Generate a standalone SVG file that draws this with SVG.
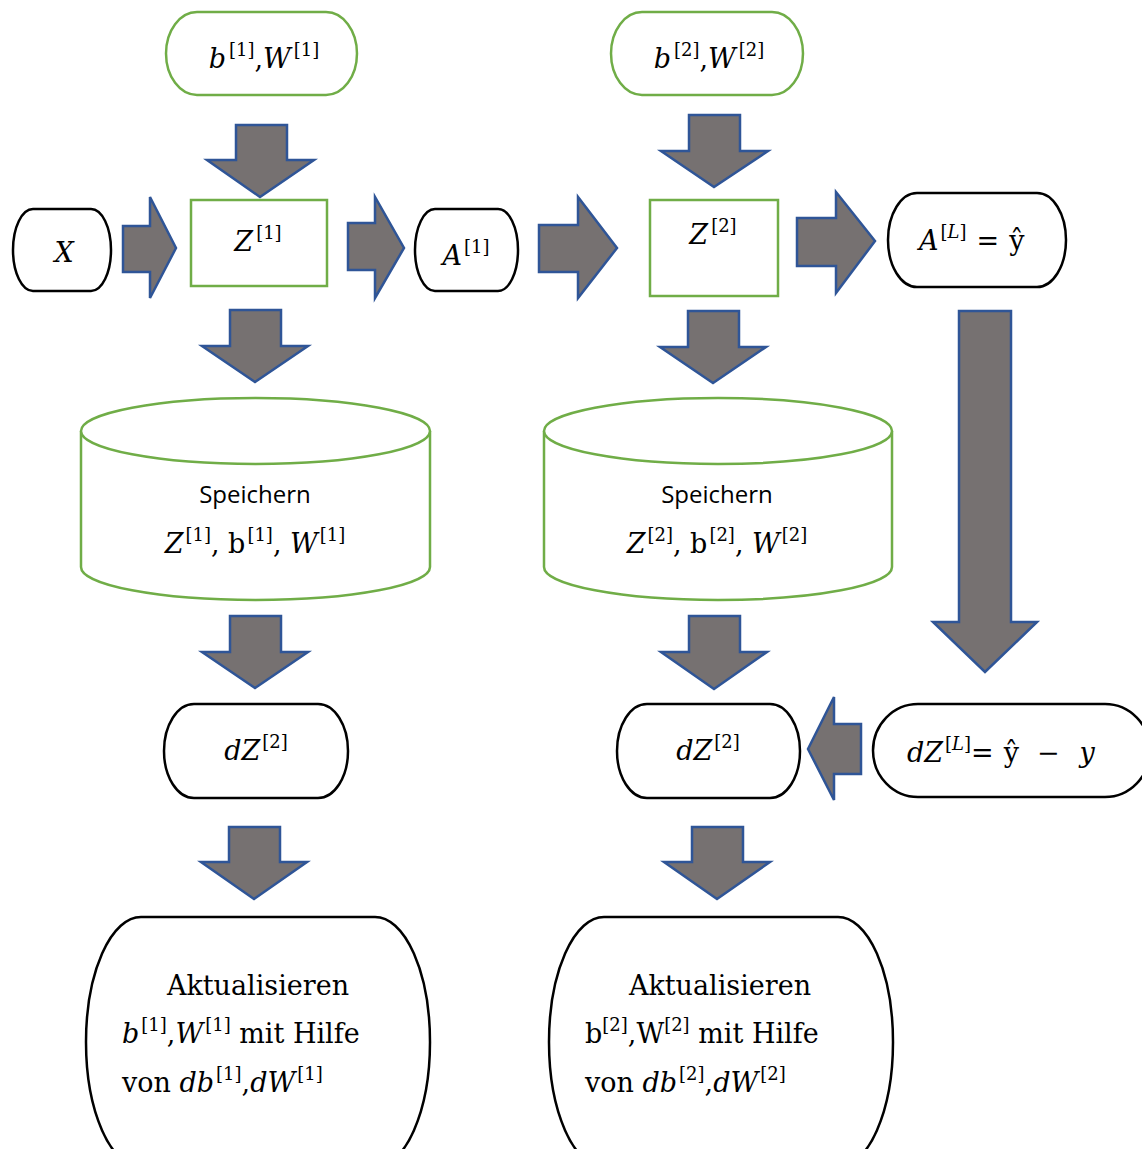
<svg xmlns="http://www.w3.org/2000/svg" width="1142" height="1149" viewBox="0 0 1142 1149">
<style>
.arr{fill:#767171;stroke:#2F5597;stroke-width:2.5;stroke-linejoin:miter}
.g{fill:#fff;stroke:#70AD47;stroke-width:2.5}
.k{fill:#fff;stroke:#000;stroke-width:2.5}
.m{font-family:"DejaVu Serif","Liberation Serif",serif;font-size:27px;fill:#000}
.i{font-style:italic}
.s{font-size:18px}
.sans{font-family:"Open Sans",Lato,"Liberation Sans",sans-serif;font-size:24px;fill:#000}
</style>
<rect width="1142" height="1149" fill="#fff"/>
<g id="connectors">
<polygon class="arr" points="236,125 287,125 287,160 314,160 260,197 207,160 236,160"/>
<polygon class="arr" points="689,115 740,115 740,151 768,151 714,187 661,151 689,151"/>
<polygon class="arr" points="123,226 150,226 150,197 176,248 150,298 150,272 123,272"/>
<polygon class="arr" points="348,223 375,223 375,197 404,248 375,298 375,270 348,270"/>
<polygon class="arr" points="539,225 578,225 578,197 617,248 578,298 578,272 539,272"/>
<polygon class="arr" points="797,218 836,218 836,192 875,241 836,293 836,266 797,266"/>
<polygon class="arr" points="230,310 281,310 281,346 308,346 255,382 202,346 230,346"/>
<polygon class="arr" points="688,311 739,311 739,347 766,347 713,383 660,347 688,347"/>
<polygon class="arr" points="959,311 1011,311 1011,622 1037,622 985,672 933,622 959,622"/>
<polygon class="arr" points="230,616 281,616 281,652 308,652 255,688 202,652 230,652"/>
<polygon class="arr" points="689,616 740,616 740,652 767,652 714,689 661,652 689,652"/>
<polygon class="arr" points="861,724 861,774 834,774 834,800 808,749 834,697 834,724"/>
<polygon class="arr" points="229,827 280,827 280,862 307,862 254,899 201,862 229,862"/>
<polygon class="arr" points="692,827 743,827 743,862 770,862 717,899 664,862 692,862"/>
</g>
<g id="n_b1">
<path class="g" d="M197,12 H326 A31,41.5 0 0 1 326,95 H197 A31,41.5 0 0 1 197,12 Z"/>
<text class="m" x="264" y="68" text-anchor="middle"><tspan class="i">b</tspan><tspan class="s" dx="3" dy="-12">[1]</tspan><tspan dy="12">,</tspan><tspan class="i">W</tspan><tspan class="s" dx="3" dy="-12">[1]</tspan></text>
</g>
<g id="n_b2">
<path class="g" d="M642,12 H772 A31,41.5 0 0 1 772,95 H642 A31,41.5 0 0 1 642,12 Z"/>
<text class="m" x="709" y="68" text-anchor="middle"><tspan class="i">b</tspan><tspan class="s" dx="3" dy="-12">[2]</tspan><tspan dy="12">,</tspan><tspan class="i">W</tspan><tspan class="s" dx="3" dy="-12">[2]</tspan></text>
</g>
<g id="n_x">
<path class="k" d="M33,209 H91 A20,41 0 0 1 91,291 H33 A20,41 0 0 1 33,209 Z"/>
<text class="m i" x="64" y="262" text-anchor="middle">X</text>
</g>
<g id="n_z1">
<rect class="g" x="191" y="200" width="136" height="86"/>
<text class="m" x="258" y="251" text-anchor="middle"><tspan class="i">Z</tspan><tspan class="s" dx="3" dy="-12">[1]</tspan></text>
</g>
<g id="n_a1">
<path class="k" d="M435,209 H498 A20,41 0 0 1 498,291 H435 A20,41 0 0 1 435,209 Z"/>
<text class="m" x="466" y="265" text-anchor="middle"><tspan class="i">A</tspan><tspan class="s" dx="2" dy="-12">[1]</tspan></text>
</g>
<g id="n_z2">
<rect class="g" x="650" y="200" width="128" height="96"/>
<text class="m" x="713" y="244" text-anchor="middle"><tspan class="i">Z</tspan><tspan class="s" dx="3" dy="-12">[2]</tspan></text>
</g>
<g id="n_al">
<path class="k" d="M917,193 H1037 A29,47 0 0 1 1037,287 H917 A29,47 0 0 1 917,193 Z"/>
<text class="m" x="919" y="250"><tspan class="i">A</tspan><tspan class="s" dx="2" dy="-12">[<tspan class="i">L</tspan>]</tspan><tspan dx="10" dy="12">=</tspan><tspan dx="10">ŷ</tspan></text>
</g>
<g id="n_s1">
<path class="g" d="M81,431 V567 A174.5,33 0 0 0 430,567 V431"/>
<ellipse class="g" cx="255.5" cy="431" rx="174.5" ry="33"/>
<text class="sans" x="255" y="503" text-anchor="middle">Speichern</text>
<text class="m" x="255" y="553" text-anchor="middle"><tspan class="i">Z</tspan><tspan class="s" dx="2" dy="-12">[1]</tspan><tspan dy="12">, b</tspan><tspan class="s" dx="2" dy="-12">[1]</tspan><tspan dy="12">, </tspan><tspan class="i">W</tspan><tspan class="s" dx="2" dy="-12">[1]</tspan></text>
</g>
<g id="n_s2">
<path class="g" d="M544,431 V567 A174,33 0 0 0 892,567 V431"/>
<ellipse class="g" cx="718" cy="431" rx="174" ry="33"/>
<text class="sans" x="717" y="503" text-anchor="middle">Speichern</text>
<text class="m" x="717" y="553" text-anchor="middle"><tspan class="i">Z</tspan><tspan class="s" dx="2" dy="-12">[2]</tspan><tspan dy="12">, b</tspan><tspan class="s" dx="2" dy="-12">[2]</tspan><tspan dy="12">, </tspan><tspan class="i">W</tspan><tspan class="s" dx="2" dy="-12">[2]</tspan></text>
</g>
<g id="n_dz1">
<path class="k" d="M194,704 H318 A30,47 0 0 1 318,798 H194 A30,47 0 0 1 194,704 Z"/>
<text class="m" x="256" y="760" text-anchor="middle"><tspan class="i">dZ</tspan><tspan class="s" dx="2" dy="-12">[2]</tspan></text>
</g>
<g id="n_dz2">
<path class="k" d="M647,704 H770 A30,47 0 0 1 770,798 H647 A30,47 0 0 1 647,704 Z"/>
<text class="m" x="708" y="760" text-anchor="middle"><tspan class="i">dZ</tspan><tspan class="s" dx="2" dy="-12">[2]</tspan></text>
</g>
<g id="n_dzl">
<path class="k" d="M918,704 H1105 A45,46.5 0 0 1 1105,797 H918 A45,46.5 0 0 1 918,704 Z"/>
<text class="m" x="907" y="762"><tspan class="i">dZ</tspan><tspan class="s" dx="2" dy="-12">[<tspan class="i">L</tspan>]</tspan><tspan dy="12">=</tspan><tspan dx="10">ŷ</tspan><tspan dx="18">−</tspan><tspan class="i" dx="20">y</tspan></text>
</g>
<g id="n_u1">
<path class="k" d="M141,917 H375 A55,125 0 0 1 375,1167 H141 A55,125 0 0 1 141,917 Z"/>
<text class="m" x="258" y="995" text-anchor="middle">Aktualisieren</text>
<text class="m" x="122" y="1043"><tspan class="i">b</tspan><tspan class="s" dx="2" dy="-12">[1]</tspan><tspan dy="12">,</tspan><tspan class="i">W</tspan><tspan class="s" dx="2" dy="-12">[1]</tspan><tspan dy="12"> mit Hilfe</tspan></text>
<text class="m" x="122" y="1092">von <tspan class="i">db</tspan><tspan class="s" dx="2" dy="-12">[1]</tspan><tspan dy="12">,</tspan><tspan class="i">dW</tspan><tspan class="s" dx="2" dy="-12">[1]</tspan></text>
</g>
<g id="n_u2">
<path class="k" d="M604,917 H838 A55,125 0 0 1 838,1167 H604 A55,125 0 0 1 604,917 Z"/>
<text class="m" x="720" y="995" text-anchor="middle">Aktualisieren</text>
<text class="m" x="585" y="1043">b<tspan class="s" dy="-12">[2]</tspan><tspan dy="12">,W</tspan><tspan class="s" dy="-12">[2]</tspan><tspan dy="12"> mit Hilfe</tspan></text>
<text class="m" x="585" y="1092">von <tspan class="i">db</tspan><tspan class="s" dx="2" dy="-12">[2]</tspan><tspan dy="12">,</tspan><tspan class="i">dW</tspan><tspan class="s" dx="2" dy="-12">[2]</tspan></text>
</g>
</svg>
